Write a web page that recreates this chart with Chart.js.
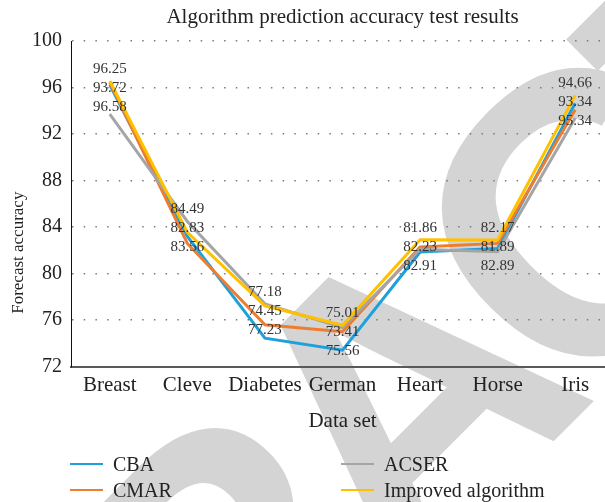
<!DOCTYPE html>
<html>
<head>
<meta charset="utf-8">
<script src="https://cdn.jsdelivr.net/npm/chart.js@4.4.1/dist/chart.umd.min.js"></script>
<style>
  html, body { margin: 0; padding: 0; background: #fff; overflow: hidden; }
  #wrap { position: relative; width: 605px; height: 502px; overflow: hidden; }
  #accChart { position: absolute; left: 0; top: 0; }
  #legendInline { position: absolute; left: 0; top: 0; width: 605px; height: 502px; pointer-events: none;
    font-family: "Liberation Serif", serif; font-size: 20px; color: #222; }
  .legend-item { position: absolute; display: flex; align-items: center; height: 24px; line-height: 24px; }
  .legend-swatch { width: 33px; height: 2px; margin-right: 10px; }
</style>
</head>
<body>
<div id="wrap">
  <canvas id="accChart" width="620" height="502"></canvas>
  <div id="legendInline"></div>
</div>
<script>
// DATA
const categories = ["Breast", "Cleve", "Diabetes", "German", "Heart", "Horse", "Iris"];
const cbaValues = [96.25, 83.2, 74.45, 73.41, 81.86, 82.17, 94.66];
const cmarValues = [96.45, 82.6, 75.6, 75.01, 82.3, 82.6, 94.1];
const acserValues = [93.72, 84.49, 77.4, 75.35, 82.1, 81.89, 93.4];
const improvedValues = [96.58, 83.56, 77.23, 75.56, 82.91, 82.89, 95.34];
// the three numbers printed above each data set
const pointLabels = [
  ["96.25", "93.72", "96.58"],
  ["84.49", "82.83", "83.56"],
  ["77.18", "74.45", "77.23"],
  ["75.01", "73.41", "75.56"],
  ["81.86", "82.23", "82.91"],
  ["82.17", "81.89", "82.89"],
  ["94.66", "93.34", "95.34"],
];
const yTicks = [72, 76, 80, 84, 88, 92, 96, 100];

const palette = [
  { name: "CBA", color: "#1f9fdb", order: 3 },
  { name: "CMAR", color: "#ed7d31", order: 2 },
  { name: "ACSER", color: "#a5a5a5", order: 1 },
  { name: "Improved algorithm", color: "#ffc000", order: 0 },
];
const seriesValues = [cbaValues, cmarValues, acserValues, improvedValues];

Chart.defaults.font.family = '"Liberation Serif", "Times New Roman", serif';
Chart.defaults.color = "#222";

// big grey page watermark behind the chart
const watermark = {
  id: "watermark",
  beforeDraw(chart) {
    const { ctx } = chart;
    ctx.save();
    ctx.font = 'bold 400px "Liberation Sans"';
    ctx.letterSpacing = "-34px";
    const wLead = ctx.measureText("RETRA").width;
    const wC = ctx.measureText("C").width;
    const capH = ctx.measureText("H").actualBoundingBoxAscent;
    ctx.translate(568, 228);
    ctx.rotate(-45 * Math.PI / 180);
    ctx.fillStyle = "#d4d4d4";
    ctx.textBaseline = "alphabetic";
    ctx.fillText("RETRACTED", -(wLead + wC / 2), capH / 2);
    ctx.restore();
  },
};

// labels stacked above the highest point of each category
const stackLabels = {
  id: "stackLabels",
  afterDatasetsDraw(chart) {
    const { ctx, scales: { x, y } } = chart;
    ctx.save();
    ctx.font = '15px "Liberation Serif"';
    ctx.fillStyle = "#333";
    ctx.textAlign = "center";
    ctx.textBaseline = "middle";
    pointLabels.forEach((texts, i) => {
      const top = Math.max(...seriesValues.map((s) => s[i]));
      const px = x.getPixelForValue(i);
      const py = y.getPixelForValue(top) - 12;
      texts.forEach((t, k) => ctx.fillText(t, px, py + k * 19));
    });
    ctx.restore();
  },
};

// y axis title sits a bit below the middle of the plot
const yTitle = {
  id: "yTitle",
  afterDraw(chart) {
    const { ctx, chartArea } = chart;
    ctx.save();
    ctx.translate(19, chartArea.top + (chartArea.bottom - chartArea.top) * 0.65);
    ctx.rotate(-Math.PI / 2);
    ctx.font = '17px "Liberation Serif"';
    ctx.fillStyle = "#222";
    ctx.textAlign = "center";
    ctx.textBaseline = "middle";
    ctx.fillText("Forecast accuracy", 0, 0);
    ctx.restore();
  },
};

const datasets = palette.map((p, idx) => ({
  label: p.name,
  data: seriesValues[idx],
  borderColor: p.color,
  backgroundColor: p.color,
  borderWidth: 3,
  tension: 0,
  pointRadius: 0,
  order: p.order,
}));

function buildLegend() {
  const legend = document.getElementById("legendInline");
  legend.innerHTML = "";
  palette.forEach((p, idx) => {
    const item = document.createElement("div");
    item.className = "legend-item";
    item.style.left = 70 + Math.floor(idx / 2) * 271 + "px";
    item.style.top = 452 + (idx % 2) * 26 + "px";
    const sw = document.createElement("span");
    sw.className = "legend-swatch";
    sw.style.background = p.color;
    const label = document.createElement("span");
    label.textContent = p.name;
    item.appendChild(sw);
    item.appendChild(label);
    legend.appendChild(item);
  });
}

const ctx = document.getElementById("accChart").getContext("2d");
const chart = new Chart(ctx, {
  type: "line",
  data: { labels: categories, datasets },
  options: {
    responsive: false,
    animation: false,
    layout: { padding: { left: 0, right: 6, top: 0, bottom: 66 } },
    plugins: {
      legend: { display: false },
      tooltip: { enabled: false },
      title: {
        display: true,
        text: "Algorithm prediction accuracy test results",
        fullSize: false,
        font: { size: 21, weight: "normal" },
        color: "#222",
        padding: { top: 5, bottom: 11 },
      },
    },
    scales: {
      x: {
        offset: true,
        grid: { display: false, drawTicks: false },
        border: { color: "#5a5a5a", width: 2 },
        ticks: { font: { size: 21 }, color: "#222", padding: 6, autoSkip: false, maxRotation: 0 },
        title: { display: true, text: "Data set", font: { size: 21 }, color: "#222", padding: { top: 5, bottom: 2 } },
      },
      y: {
        min: 72,
        max: 100,
        afterBuildTicks: (scale) => {
          scale.ticks = yTicks.map((v) => ({ value: v }));
        },
        afterFit: (scale) => {
          scale.width = 71;
        },
        grid: { color: "#7a7a7a", lineWidth: 1.5, drawTicks: false },
        border: { color: "#111", width: 1, dash: [1.5, 10.2] },
        ticks: { font: { size: 20 }, color: "#222", padding: 9 },
      },
    },
  },
  plugins: [watermark, stackLabels, yTitle],
});

buildLegend();
</script>
</body>
</html>
